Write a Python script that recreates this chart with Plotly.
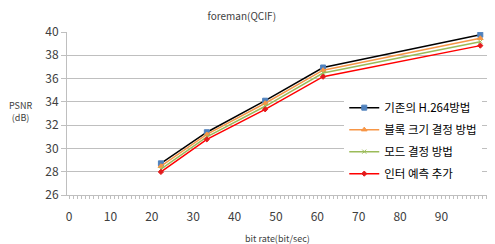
import plotly.graph_objects as go

bit_rate = [22.2, 33.3, 47.4, 61.4, 99.4]
psnr_base = [28.72, 31.39, 34.1, 36.95, 39.77]
psnr_block = [28.48, 31.2, 33.88, 36.72, 39.46]
psnr_mode = [28.22, 31.0, 33.62, 36.48, 39.17]
psnr_inter = [27.98, 30.78, 33.36, 36.16, 38.83]

series_names = ["기존의 H.264방법", "블록 크기 결정 방법", "모드 결정 방법", "인터 예측 추가"]
y_ticks = [26, 28, 30, 32, 34, 36, 38, 40]
x_ticks = [0, 10, 20, 30, 40, 50, 60, 70, 80, 90]

FONT = "Noto Sans CJK KR"

fig = go.Figure()
styles = [
    (psnr_base, "#000000", "#4F81BD", "square", 5),
    (psnr_block, "#F79646", "#F79646", "triangle-up", 5),
    (psnr_mode, "#9BBB59", "#9BBB59", "x-thin-open", 4),
    (psnr_inter, "#FF0000", "#E31A1C", "diamond", 4),
]
for i, (name, (ys, lc, mc, sym, sz)) in enumerate(zip(series_names, styles)):
    fig.add_trace(go.Scatter(
        x=bit_rate, y=ys, name=name, mode="lines+markers", legendgroup=f"g{i}",
        line=dict(color=lc, width=1.5),
        marker=dict(color=mc, symbol=sym, size=sz, line=dict(color=mc, width=1)),
    ))

# page body has an 8px margin; figure is shrunk so it fits the 495x244 window
fig.update_layout(
    width=487, height=236,
    margin=dict(l=59, r=6, t=24, b=49),
    paper_bgcolor="white", plot_bgcolor="white",
    font=dict(family=FONT, color="#404040", size=12),
    title=dict(text="foreman(QCIF)", x=0.48, xanchor="center", y=0.962, yanchor="middle",
               yref="container",
               font=dict(size=10, color="#404040", family=FONT)),
    showlegend=True,
    legend=dict(x=0.657, y=0.625, xanchor="left", yanchor="top", bgcolor="white",
                font=dict(size=11.5, color="#000000", family=FONT),
                itemwidth=30, tracegroupgap=3),
    annotations=[
        dict(text="PSNR<br>(dB)", xref="paper", yref="paper", x=-0.111, y=0.51,
             xanchor="center", yanchor="middle",
             showarrow=False, font=dict(size=9, color="#404040", family=FONT), align="center"),
        dict(text="bit rate(bit/sec)", xref="paper", yref="paper", x=0.498, y=-0.264,
             xanchor="center", yanchor="middle",
             showarrow=False, font=dict(size=9, color="#404040", family=FONT)),
    ],
)
fig.update_xaxes(
    range=[-0.5, 101.5], tickvals=x_ticks, ticktext=[str(v) for v in x_ticks],
    showgrid=False, showline=True, linecolor="#BFBFBF", linewidth=1,
    ticks="outside", ticklen=3, tickcolor="#BFBFBF",
    minor=dict(ticks="outside", ticklen=3, tickcolor="#BFBFBF", dtick=1, tick0=0),
    zeroline=False, tickfont=dict(size=12, color="#404040"), ticklabelstandoff=8,
)
fig.update_yaxes(
    range=[26, 40], tickvals=y_ticks, showgrid=True, gridcolor="#BFBFBF", gridwidth=1,
    showline=True, linecolor="#BFBFBF", ticks="outside", ticklen=5, tickcolor="#BFBFBF",
    zeroline=False, tickfont=dict(size=12, color="#404040"), ticklabelstandoff=0,
)
fig.write_html("out.html")
